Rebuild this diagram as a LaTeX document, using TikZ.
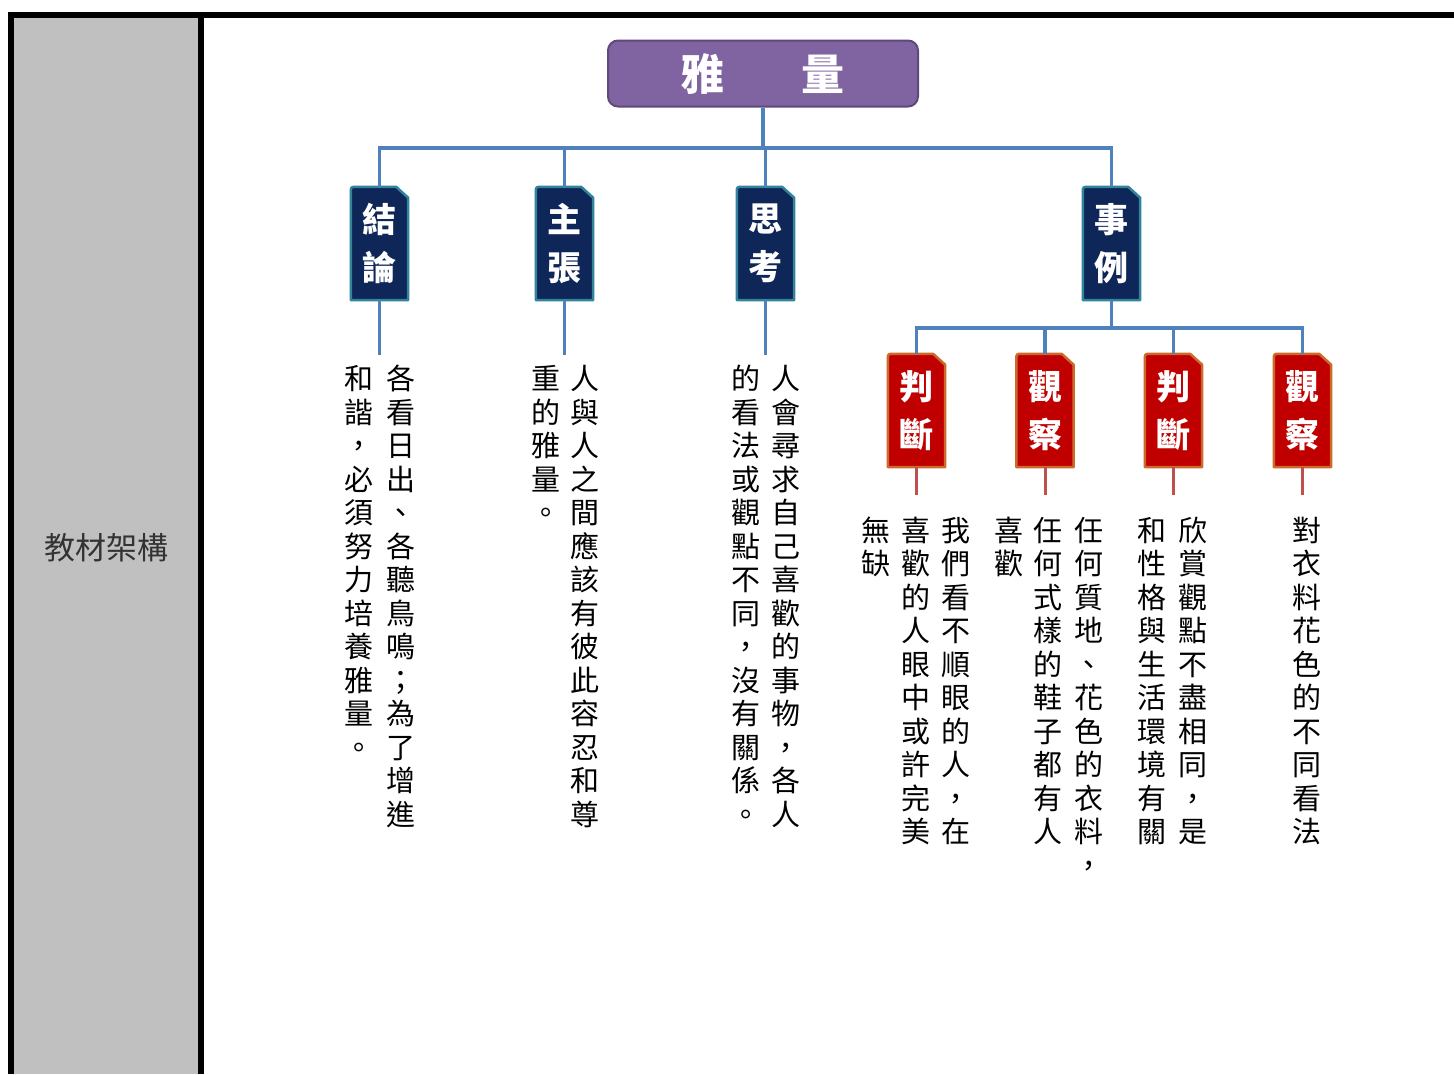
\documentclass[tikz,border=0pt]{standalone}
\usepackage{fontspec}
\newfontfamily\cjk{Noto Sans CJK TC}
\definecolor{purplefill}{HTML}{8064A2}
\definecolor{purpleedge}{HTML}{5F497A}
\definecolor{navyfill}{HTML}{0F2658}
\definecolor{navyedge}{HTML}{31849B}
\definecolor{redfill}{HTML}{C00000}
\definecolor{rededge}{HTML}{CC6A2C}
\definecolor{blueline}{HTML}{4F81BD}
\definecolor{redline}{HTML}{C0504D}
\definecolor{panelgray}{HTML}{C0C0C0}
\definecolor{labelgray}{HTML}{333333}
\pgfdeclarelayer{bottom}
\pgfdeclarelayer{background}
\pgfsetlayers{bottom,background,main}
\makeatletter
\newcommand\vcol[1]{\vbox{\offinterlineskip\@tfor\myvc:=#1\do{\hbox to 1em{\hss\vrule height .88em depth .12em width 0pt\myvc\hss}\vskip\dimexpr 33.5pt-1em\relax}}}
\makeatother
\newcommand\tagbg[3]{%
  \begin{pgfonlayer}{background}
  \filldraw[fill=#2,draw=#3,line width=2.5pt,line join=round]
    (#1.south west) -- ([yshift=-6pt]#1.north west)
    .. controls (#1.north west) .. ([xshift=6pt]#1.north west)
    -- ([xshift=-12pt]#1.north east) -- ([yshift=-11pt]#1.north east)
    -- (#1.south east) -- cycle;
  \end{pgfonlayer}}
\tikzset{
  tagnode/.style={inner sep=0pt, minimum width=57pt, minimum height=113pt, text=white, align=center,
    font=\cjk\bfseries\fontsize{34}{48}\selectfont},
  vtext/.style={inner sep=0pt, anchor=north, font=\cjk\fontsize{29}{33.5}\selectfont},
  conn/.style={draw=blueline, line width=3.5pt},
  rconn/.style={draw=redline, line width=3pt},
}
\begin{document}
\begin{tikzpicture}[x=1pt,y=1pt]
\useasboundingbox (0,0) rectangle (1454,-1074);
\begin{pgfonlayer}{bottom}
\fill[white] (0,0) rectangle (1454,-1074);
\end{pgfonlayer}
% frame
\fill[black] (8,-12) rectangle (1454,-18);
\fill[black] (8,-18) rectangle (14,-1074);
\fill[panelgray] (14,-18) rectangle (198,-1074);
\fill[black] (198,-18) rectangle (204,-1074);
\node[font=\cjk\fontsize{31}{36}\selectfont, text=labelgray] (lbl) at (106,-548) {教材架構};

% title
\node[draw=purpleedge, fill=purplefill, line width=2pt, rounded corners=10pt, minimum width=310pt, minimum height=66pt,
      text=white, font=\cjk\bfseries\fontsize{43}{50}\selectfont, inner sep=0pt] (top) at (763,-73.5) {雅\hspace{78pt}量};

% level 2
\node[tagnode] (jl) at (379.5,-243.5) {結\\論};
\node[tagnode] (zz) at (564.5,-243.5) {主\\張};
\node[tagnode] (sk) at (765.5,-243.5) {思\\考};
\node[tagnode] (sl) at (1111.5,-243.5) {事\\例};
\tagbg{jl}{navyfill}{navyedge}
\tagbg{zz}{navyfill}{navyedge}
\tagbg{sk}{navyfill}{navyedge}
\tagbg{sl}{navyfill}{navyedge}

% level 3
\node[tagnode] (pd1) at (916.5,-410.5) {判\\斷};
\node[tagnode] (gc1) at (1045,-410.5) {觀\\察};
\node[tagnode] (pd2) at (1173.5,-410.5) {判\\斷};
\node[tagnode] (gc2) at (1302.5,-410.5) {觀\\察};
\tagbg{pd1}{redfill}{rededge}
\tagbg{gc1}{redfill}{rededge}
\tagbg{pd2}{redfill}{rededge}
\tagbg{gc2}{redfill}{rededge}

% connectors level 1-2
\coordinate (bus) at (763,-148);
\draw[conn] (top.south) -- (bus);
\draw[conn] (jl.north) -- (jl.north |- bus) -- (sl.north |- bus) -- (sl.north);
\draw[conn] (zz.north) -- (zz.north |- bus);
\draw[conn] (sk.north) -- (sk.north |- bus);

% connectors level 2-3
\coordinate (sbus) at (1111.5,-328);
\draw[conn] (sl.south) -- (sbus);
\draw[conn] (pd1.north) -- (pd1.north |- sbus) -- (gc2.north |- sbus) -- (gc2.north);
\draw[conn] (gc1.north) -- (gc1.north |- sbus);
\draw[conn] (pd2.north) -- (pd2.north |- sbus);

% connectors to text
\coordinate (jle) at (379.5,-355);
\coordinate (zze) at (564.5,-355);
\coordinate (ske) at (765.5,-355);
\draw[conn] (jl.south) -- (jle);
\draw[conn] (zz.south) -- (zze);
\draw[conn] (sk.south) -- (ske);
\coordinate (pd1e) at (916.5,-495);
\coordinate (gc1e) at (1045,-495);
\coordinate (pd2e) at (1173.5,-495);
\coordinate (gc2e) at (1302.5,-495);
\draw[rconn] (pd1.south) -- (pd1e);
\draw[rconn] (gc1.south) -- (gc1e);
\draw[rconn] (pd2.south) -- (pd2e);
\draw[rconn] (gc2.south) -- (gc2e);

% vertical texts
\node[vtext] (ta1) at (401,-364) {\vcol{各看日出、各聽鳥鳴；為了增進}};
\node[vtext] (ta2) at (359,-364) {\vcol{和諧，必須努力培養雅量。}};
\node[vtext] (tb1) at (585,-364) {\vcol{人與人之間應該有彼此容忍和尊}};
\node[vtext] (tb2) at (546,-364) {\vcol{重的雅量。}};
\node[vtext] (tc1) at (786,-364) {\vcol{人會尋求自己喜歡的事物，各人}};
\node[vtext] (tc2) at (746,-364) {\vcol{的看法或觀點不同，沒有關係。}};
\node[vtext] (td1) at (956,-515.5) {\vcol{我們看不順眼的人，在}};
\node[vtext] (td2) at (916,-515.5) {\vcol{喜歡的人眼中或許完美}};
\node[vtext] (td3) at (876,-515.5) {\vcol{無缺}};
\node[vtext] (te1) at (1089,-515.5) {\vcol{任何質地、花色的衣料，}};
\node[vtext] (te2) at (1048,-515.5) {\vcol{任何式樣的鞋子都有人}};
\node[vtext] (te3) at (1009,-515.5) {\vcol{喜歡}};
\node[vtext] (tf1) at (1193,-515.5) {\vcol{欣賞觀點不盡相同，是}};
\node[vtext] (tf2) at (1152,-515.5) {\vcol{和性格與生活環境有關}};
\node[vtext] (tg1) at (1307,-515.5) {\vcol{對衣料花色的不同看法}};
\end{tikzpicture}
\end{document}
